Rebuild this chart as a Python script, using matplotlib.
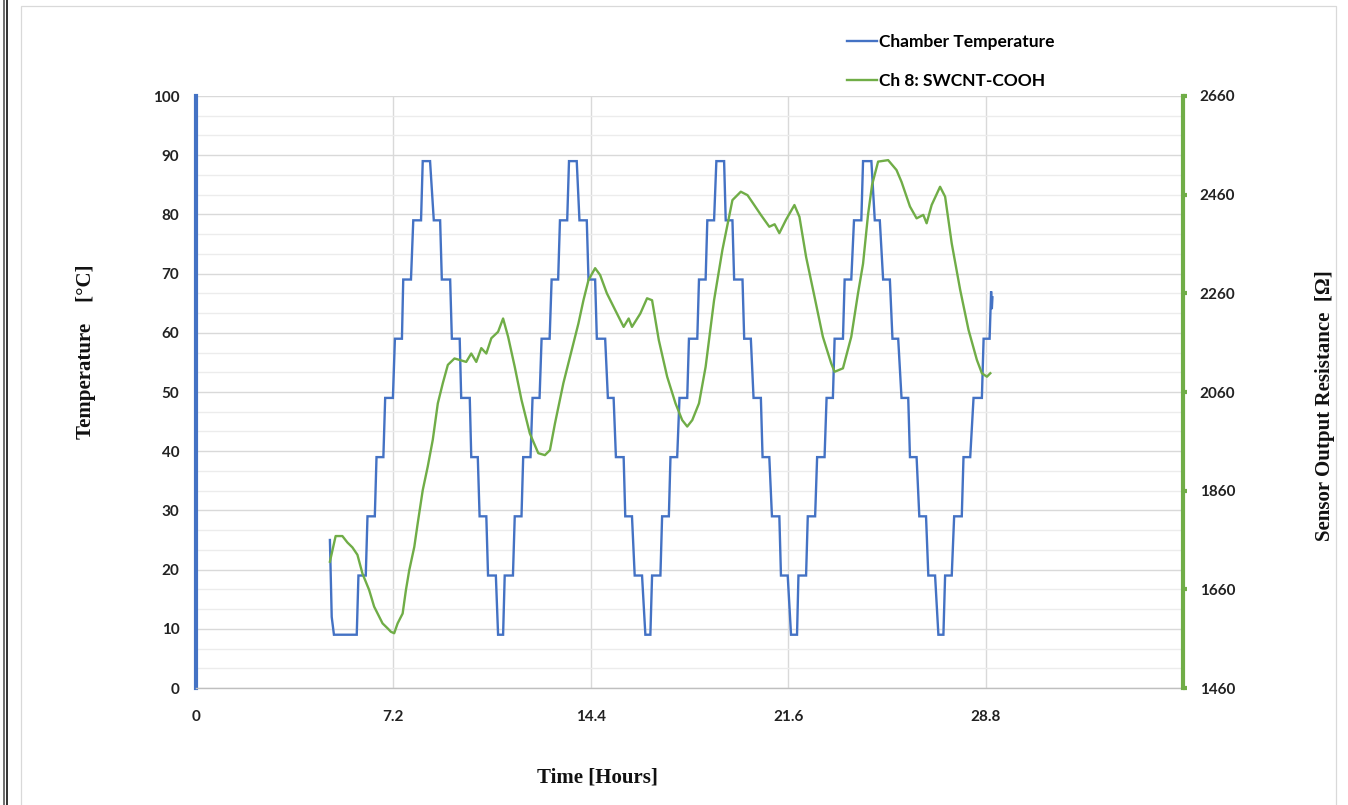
import matplotlib
matplotlib.use("Agg")
import matplotlib.pyplot as plt
from matplotlib.lines import Line2D
from matplotlib.patches import Rectangle
from matplotlib.ticker import MultipleLocator, FixedLocator

# ---------------- data ----------------
# Chamber temperature: hold plateaus (start hour, end hour, temperature in degC)
plateau_start = [5.031, 5.925, 6.255, 6.584, 6.900, 7.255, 7.559, 7.925, 8.270, 8.673,
                 8.966, 9.332, 9.673, 10.040, 10.344, 10.652, 11.018, 11.260, 11.626, 11.934,
                 12.275, 12.605, 12.971, 13.275, 13.605, 13.986, 14.316, 14.620, 15.023, 15.316,
                 15.657, 16.001, 16.390, 16.635, 17.001, 17.306, 17.635, 17.980, 18.346, 18.650,
                 18.980, 19.321, 19.628, 19.995, 20.336, 20.665, 21.007, 21.336, 21.703, 21.974,
                 22.314, 22.655, 23.000, 23.293, 23.659, 24.000, 24.330, 24.758, 25.062, 25.403,
                 25.733, 26.041, 26.382, 26.711, 27.078, 27.323, 27.653, 27.994, 28.360, 28.727]
plateau_end = [5.863, 6.192, 6.522, 6.834, 7.182, 7.511, 7.841, 8.208, 8.537, 8.904,
               9.270, 9.618, 9.985, 10.278, 10.589, 10.937, 11.201, 11.560, 11.872, 12.201,
               12.531, 12.898, 13.209, 13.539, 13.887, 14.253, 14.558, 14.924, 15.232, 15.598,
               15.902, 16.269, 16.573, 16.939, 17.247, 17.551, 17.917, 18.284, 18.588, 18.896,
               19.262, 19.566, 19.933, 20.237, 20.603, 20.911, 21.277, 21.582, 21.922, 22.252,
               22.582, 22.926, 23.230, 23.597, 23.901, 24.267, 24.634, 24.941, 25.308, 25.612,
               25.978, 26.283, 26.627, 26.957, 27.261, 27.565, 27.931, 28.239, 28.664, 28.946]
plateau_temp = [9, 19, 29, 39, 49, 59, 69, 79, 89, 79, 69, 59, 49, 39, 29, 19,
                9, 19, 29, 39, 49, 59, 69, 79, 89, 79, 69, 59, 49, 39, 29, 19,
                9, 19, 29, 39, 49, 59, 69, 79, 89, 79, 69, 59, 49, 39, 29, 19,
                9, 19, 29, 39, 49, 59, 69, 79, 89, 79, 69, 59, 49, 39, 29, 19,
                9, 19, 29, 39, 49, 59]
# samples before the first plateau and after the last one
lead_time = [4.884, 4.950]
lead_temp = [25, 12]
tail_time = [29.001, 29.027, 29.049]
tail_temp = [67, 64, 66]

# Sensor output resistance, channel 8 (hours, ohm)
res_time = [4.884, 5.093, 5.339, 5.522, 5.705, 5.888, 6.071, 6.313, 6.497, 6.804,
            6.988, 7.108, 7.229, 7.354, 7.537, 7.658, 7.779, 7.962, 8.087, 8.270,
            8.453, 8.636, 8.820, 9.003, 9.186, 9.428, 9.856, 10.040, 10.223, 10.406,
            10.589, 10.772, 11.018, 11.201, 11.384, 11.626, 11.872, 12.176, 12.484, 12.726,
            12.909, 13.092, 13.400, 13.704, 13.949, 14.132, 14.316, 14.558, 14.741, 14.986,
            15.291, 15.598, 15.781, 15.902, 16.206, 16.452, 16.635, 16.881, 17.185, 17.489,
            17.734, 17.917, 18.101, 18.346, 18.588, 18.896, 19.200, 19.566, 19.871, 20.116,
            20.361, 20.603, 20.911, 21.105, 21.277, 21.519, 21.827, 22.010, 22.252, 22.560,
            22.864, 23.168, 23.293, 23.597, 23.901, 24.146, 24.330, 24.513, 24.660, 24.879,
            25.245, 25.550, 25.733, 26.041, 26.283, 26.528, 26.649, 26.832, 27.139, 27.323,
            27.565, 27.873, 28.177, 28.482, 28.664, 28.848, 28.972]
res_ohm = [1716, 1768, 1768, 1755, 1745, 1730, 1692, 1659, 1625, 1591,
           1581, 1574, 1571, 1591, 1611, 1659, 1699, 1746, 1794, 1861,
           1909, 1963, 2037, 2078, 2115, 2128, 2121, 2138, 2121, 2149,
           2138, 2169, 2182, 2209, 2172, 2111, 2044, 1976, 1936, 1932,
           1942, 1996, 2078, 2145, 2199, 2246, 2287, 2311, 2297, 2260,
           2226, 2192, 2209, 2192, 2219, 2250, 2246, 2165, 2091, 2037,
           2003, 1990, 2003, 2037, 2111, 2246, 2348, 2449, 2466, 2459,
           2439, 2419, 2395, 2400, 2382, 2409, 2439, 2415, 2334, 2253,
           2172, 2118, 2101, 2108, 2172, 2260, 2320, 2420, 2480, 2527,
           2530, 2510, 2486, 2436, 2412, 2419, 2402, 2439, 2476, 2456,
           2361, 2267, 2186, 2125, 2098, 2091, 2098]

x_ticks = [0, 7.2, 14.4, 21.6, 28.8]
x_tick_labels = ["0", "7.2", "14.4", "21.6", "28.8"]
temp_ticks = [0, 10, 20, 30, 40, 50, 60, 70, 80, 90, 100]
res_ticks = [1460, 1660, 1860, 2060, 2260, 2460, 2660]

# ---------------- build the chamber trace ----------------
assert len(plateau_start) == len(plateau_end) == len(plateau_temp)
chamber_t = list(lead_time)
chamber_T = list(lead_temp)
for s, e, v in zip(plateau_start, plateau_end, plateau_temp):
    chamber_t += [s, e]
    chamber_T += [v, v]
chamber_t += tail_time
chamber_T += tail_temp

# ---------------- styling ----------------
BLUE = "#4472C4"
GREEN = "#70AD47"
TICK_FONT = dict(family="Lato", weight="bold", size=11)
SERIF = ["Liberation Serif", "DejaVu Serif"]

fig = plt.figure(figsize=(13.48, 8.05), dpi=100)
fig.patch.set_facecolor("white")

# page frame lines and chart border
fig.add_artist(Line2D([3.8 / 1348] * 2, [0, 1], transform=fig.transFigure, color="#555555", lw=1.2))
fig.add_artist(Line2D([6.8 / 1348] * 2, [0, 1], transform=fig.transFigure, color="#111111", lw=1.2))
fig.add_artist(Rectangle((20.5 / 1348, -0.05), (1336 - 20.5) / 1348, 1.05 - 6.5 / 805,
                         transform=fig.transFigure, fill=False, edgecolor="#d9d9d9", lw=0.9))

ax = fig.add_axes([196 / 1348, 1 - 688 / 805, (1183 - 196) / 1348, (688 - 96) / 805])
ax2 = ax.twinx()

ax.set_xlim(0, 36)
ax.set_ylim(0, 100)
ax2.set_ylim(1460, 2660)

# grid
ax.xaxis.set_major_locator(FixedLocator(x_ticks))
ax.yaxis.set_major_locator(FixedLocator(temp_ticks))
ax.yaxis.set_minor_locator(MultipleLocator(10 / 3))
ax.grid(True, which="major", axis="both", color="#d9d9d9", lw=1.0, zorder=0)
ax.grid(True, which="minor", axis="y", color="#ececec", lw=1.0, zorder=0)
ax.set_axisbelow(True)

ax.plot(chamber_t, chamber_T, color=BLUE, lw=1.7, solid_joinstyle="miter", zorder=3)
ax2.plot(res_time, res_ohm, color=GREEN, lw=1.7, zorder=3)

# spines
for a in (ax, ax2):
    a.spines["top"].set_visible(False)
ax.spines["right"].set_visible(False)
ax.spines["left"].set_color(BLUE)
ax.spines["left"].set_linewidth(3.0)
ax.spines["bottom"].set_color("#bfbfbf")
ax.spines["bottom"].set_linewidth(1.0)
ax2.spines["left"].set_visible(False)
ax2.spines["bottom"].set_visible(False)
ax2.spines["right"].set_color(GREEN)
ax2.spines["right"].set_linewidth(3.0)

# ticks
ax.set_xticks(x_ticks)
ax.set_xticklabels(x_tick_labels, fontdict=TICK_FONT, color="#222222")
ax.set_yticks(temp_ticks)
ax.set_yticklabels([str(v) for v in temp_ticks], fontdict=TICK_FONT, color="#222222")
ax.tick_params(axis="x", which="both", length=0, pad=16)
ax.tick_params(axis="y", which="both", length=0, pad=12)
ax2.set_yticks(res_ticks)
ax2.set_yticklabels([str(v) for v in res_ticks], fontdict=TICK_FONT, color="#222222")
ax2.tick_params(axis="y", which="major", length=3, width=3, color=GREEN, direction="out", pad=9)
ax2.tick_params(axis="y", which="minor", length=0)

# axis titles
ax.set_xlabel("Time [Hours]", fontsize=15, fontweight="bold", family=SERIF, color="#111111")
ax.xaxis.set_label_coords((597 - 196) / 987, -(767 - 688) / 592)
ax.set_ylabel("Temperature    [°C]", fontsize=15, fontweight="bold", family=SERIF, color="#111111")
ax.yaxis.set_label_coords(-(196 - 96) / 987, (688 - 352) / 592)
ax2.set_ylabel("Sensor Output Resistance  [Ω]", fontsize=15, fontweight="bold", family=SERIF,
               color="#111111", rotation=90)
ax2.yaxis.set_label_coords((1315 - 196) / 987, (688 - 406) / 592)

# legend above the plot area
handles = [Line2D([], [], color=BLUE, lw=1.7), Line2D([], [], color=GREEN, lw=1.7)]
fig.legend(handles, ["Chamber Temperature", "Ch 8: SWCNT-COOH"],
           loc="upper left", bbox_to_anchor=(831 / 1348, 1 - 18 / 805),
           frameon=False, handlelength=1.75, handletextpad=0.12, labelspacing=1.37,
           prop=dict(family="Lato", weight="bold", size=12.5))

fig.savefig("out.png", dpi=100, facecolor="white")
